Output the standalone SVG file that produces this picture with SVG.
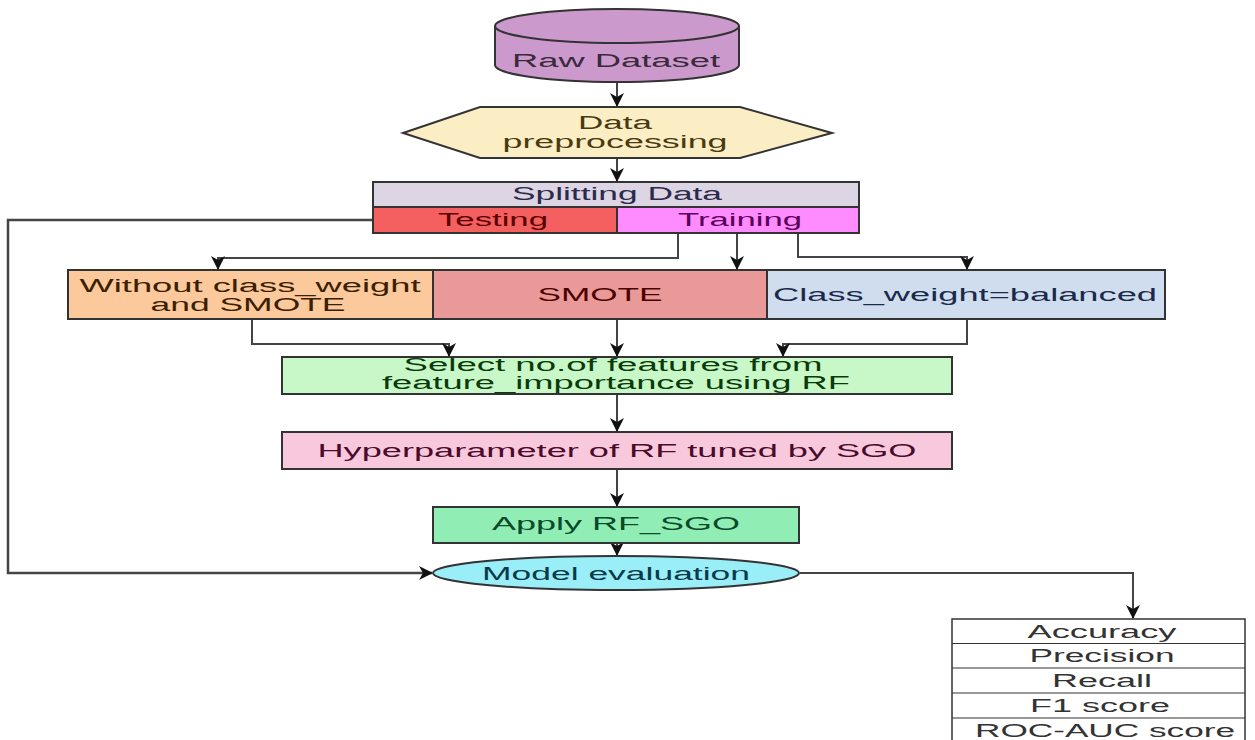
<svg xmlns="http://www.w3.org/2000/svg" width="1255" height="740" viewBox="0 0 1255 740">
<defs>
<marker id="ah" viewBox="0 0 14 14" refX="13" refY="7" markerWidth="14" markerHeight="14" markerUnits="userSpaceOnUse" orient="auto">
<path d="M0,0 L14,7 L0,14 L4,7 z" fill="#111"/>
</marker>
<style>
.nd{stroke:#333;stroke-width:2}
.t{font-family:"Liberation Sans",Arial,sans-serif;font-size:18px;text-anchor:middle}
.cn{fill:none;stroke:#444;stroke-width:2}
.ca{fill:none;stroke:#444;stroke-width:2;marker-end:url(#ah)}
</style>
</defs>
<rect width="1255" height="740" fill="#fff"/>
<g id="connectors">
<path class="ca" d="M617,83 V106"/>
<path class="ca" d="M617,158 V181"/>
<path class="ca" d="M373,220 H8 V573 H432" style="stroke-width:2.5"/>
<path class="ca" d="M678,233 V258 H218 V269"/>
<path class="ca" d="M737,233 V269"/>
<path class="ca" d="M798,233 V257 H967 V269"/>
<path class="ca" d="M252,320 V344 H449 V356"/>
<path class="ca" d="M617,320 V356"/>
<path class="ca" d="M967,320 V344 H783 V356"/>
<path class="ca" d="M617,395 V431"/>
<path class="ca" d="M617,470 V506"/>
<path class="ca" d="M617,544 V555"/>
<path class="ca" d="M800,573 H1133 V618"/>
</g>
<g id="raw-dataset">
<path class="nd" fill="#cc99cc" d="M495,26 V65 A122,17 0 0 0 739,65 V26 A122,17 0 0 0 495,26 Z"/>
<path class="nd" fill="none" d="M495,26 A122,17 0 0 0 739,26"/>
<text class="t" x="616" y="67" fill="#3a2a3a" textLength="208" lengthAdjust="spacingAndGlyphs">Raw Dataset</text>
</g>
<g id="data-preprocessing">
<polygon class="nd" fill="#fbeec5" points="403,133 480,107 740,107 832,133 740,158 480,158"/>
<text class="t" x="615" y="129" fill="#4a3a10" textLength="74" lengthAdjust="spacingAndGlyphs">Data</text>
<text class="t" x="615" y="148" fill="#4a3a10" textLength="225" lengthAdjust="spacingAndGlyphs">preprocessing</text>
</g>
<g id="splitting-data">
<rect class="nd" x="373" y="182" width="486" height="25" fill="#ddd4e4"/>
<text class="t" x="617" y="200" fill="#2a2a4a" textLength="210" lengthAdjust="spacingAndGlyphs">Splitting Data</text>
</g>
<g id="testing">
<rect class="nd" x="373" y="207" width="244" height="26" fill="#f45f5f"/>
<text class="t" x="493" y="226" fill="#5a0000" textLength="110" lengthAdjust="spacingAndGlyphs">Testing</text>
</g>
<g id="training">
<rect class="nd" x="617" y="207" width="242" height="26" fill="#ff8cff"/>
<text class="t" x="740" y="226" fill="#5a005a" textLength="124" lengthAdjust="spacingAndGlyphs">Training</text>
</g>
<g id="without">
<rect class="nd" x="68" y="270" width="365" height="49" fill="#fcc99c"/>
<text class="t" x="250" y="292" fill="#3a2000" textLength="341" lengthAdjust="spacingAndGlyphs">Without class_weight</text>
<text class="t" x="248" y="311" fill="#3a2000" textLength="195" lengthAdjust="spacingAndGlyphs">and SMOTE</text>
</g>
<g id="smote">
<rect class="nd" x="433" y="270" width="334" height="49" fill="#ea9999"/>
<text class="t" x="600" y="301" fill="#4a0000" textLength="125" lengthAdjust="spacingAndGlyphs">SMOTE</text>
</g>
<g id="class-weight">
<rect class="nd" x="767" y="270" width="398" height="49" fill="#d0ddef"/>
<text class="t" x="965" y="301" fill="#1a2a4a" textLength="384" lengthAdjust="spacingAndGlyphs">Class_weight=balanced</text>
</g>
<g id="select-features">
<rect class="nd" x="282" y="357" width="670" height="37" fill="#c8f8c8"/>
<text class="t" x="613" y="371" fill="#0a3a0a" textLength="419" lengthAdjust="spacingAndGlyphs">Select no.of features from</text>
<text class="t" x="616" y="389" fill="#0a3a0a" textLength="468" lengthAdjust="spacingAndGlyphs">feature_importance using RF</text>
</g>
<g id="hyperparameter">
<rect class="nd" x="282" y="432" width="670" height="37" fill="#f8c8dc"/>
<text class="t" x="617" y="457" fill="#4a0a2a" textLength="599" lengthAdjust="spacingAndGlyphs">Hyperparameter of RF tuned by SGO</text>
</g>
<g id="apply-rf-sgo">
<rect class="nd" x="433" y="507" width="366" height="36" fill="#90eeb4"/>
<text class="t" x="616" y="530" fill="#0a4a2a" textLength="248" lengthAdjust="spacingAndGlyphs">Apply RF_SGO</text>
</g>
<g id="model-evaluation">
<ellipse class="nd" cx="616" cy="573" rx="183" ry="17" fill="#99eef8"/>
<text class="t" x="616" y="580" fill="#0a3a4a" textLength="268" lengthAdjust="spacingAndGlyphs">Model evaluation</text>
</g>
<g id="metrics">
<rect class="nd" x="952" y="619" width="293" height="124" fill="#fff" style="stroke-width:1.5"/>
<path d="M952,643.5 H1245 M952,668 H1245 M952,693 H1245 M952,718 H1245" stroke="#333" stroke-width="1.2"/>
<text class="t" x="1102" y="638" fill="#333" textLength="149" lengthAdjust="spacingAndGlyphs">Accuracy</text>
<text class="t" x="1102" y="662" fill="#333" textLength="145" lengthAdjust="spacingAndGlyphs">Precision</text>
<text class="t" x="1102" y="687" fill="#333" textLength="100" lengthAdjust="spacingAndGlyphs">Recall</text>
<text class="t" x="1100" y="712" fill="#333" textLength="140" lengthAdjust="spacingAndGlyphs">F1 score</text>
<text class="t" x="1105" y="737" fill="#333" textLength="260" lengthAdjust="spacingAndGlyphs">ROC-AUC score</text>
</g>
</svg>
